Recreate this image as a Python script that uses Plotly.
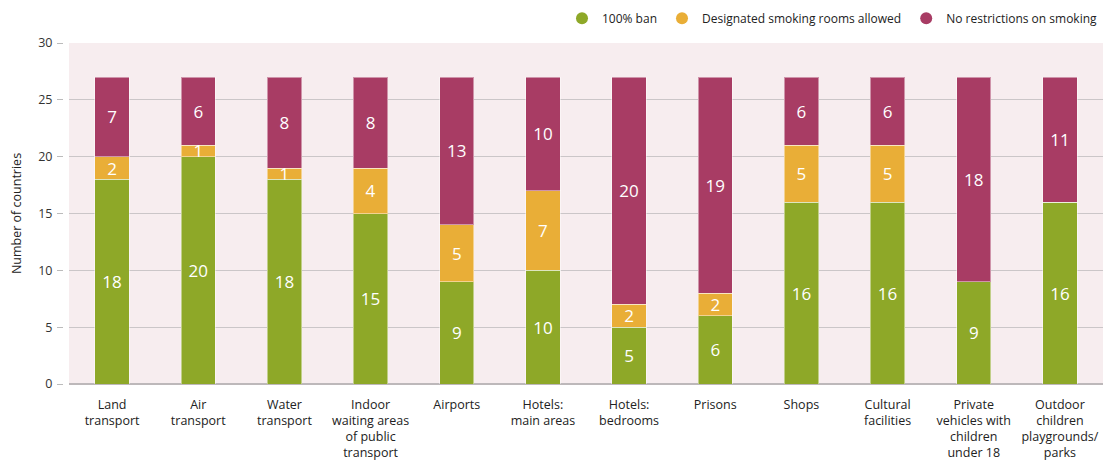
import plotly.graph_objects as go

categories = [
    "Land<br>transport", "Air<br>transport", "Water<br>transport",
    "Indoor<br>waiting areas<br>of public<br>transport", "Airports",
    "Hotels:<br>main areas", "Hotels:<br>bedrooms", "Prisons", "Shops",
    "Cultural<br>facilities", "Private<br>vehicles with<br>children<br>under 18",
    "Outdoor<br>children<br>playgrounds/<br>parks",
]
ban_100 = [18, 20, 18, 15, 9, 10, 5, 6, 16, 16, 9, 16]
designated_rooms = [2, 1, 1, 4, 5, 7, 2, 2, 5, 5, 0, 0]
no_restrictions = [7, 6, 8, 8, 13, 10, 20, 19, 6, 6, 18, 11]

series = [
    ("100% ban", ban_100, "#8ea828"),
    ("Designated smoking rooms allowed", designated_rooms, "#e9ae37"),
    ("No restrictions on smoking", no_restrictions, "#a83c64"),
]

FONT = "Open Sans"
fig = go.Figure()
x = list(range(len(categories)))
for name, vals, color in series:
    fig.add_trace(go.Bar(
        x=x, y=vals, name=name, showlegend=False,
        marker=dict(color=color, line=dict(color="rgba(255,255,255,0.45)", width=1)),
        text=[str(v) if v else "" for v in vals],
        textposition="inside", insidetextanchor="middle", textangle=0,
        textfont=dict(color="white", size=17, family=FONT),
        width=0.4, hoverinfo="skip",
    ))
for name, vals, color in series:
    fig.add_trace(go.Scatter(
        x=[None], y=[None], mode="markers", name=name,
        marker=dict(color=color, size=12, symbol="circle"),
    ))

fig.update_layout(
    barmode="stack",
    width=1105, height=463,
    margin=dict(l=63, r=2, t=43, b=79),
    paper_bgcolor="white",
    plot_bgcolor="#f7edef",
    font=dict(family=FONT, size=12, color="#333333"),
    uniformtext=dict(minsize=17, mode="show"),
    legend=dict(orientation="h", x=1, xanchor="right", y=1.03, yanchor="bottom",
                font=dict(size=12, family=FONT, color="#222222"),
                itemwidth=30, traceorder="normal", bgcolor="rgba(0,0,0,0)"),
    xaxis=dict(tickmode="array", tickvals=x, ticktext=categories,
               domain=[6 / 1040, 1],
               range=[-0.5, len(categories) - 0.5], showgrid=False,
               ticks="", ticklabelstandoff=11,
               tickfont=dict(size=12.5, family=FONT, color="#222222")),
    yaxis=dict(range=[0, 30], dtick=5, showgrid=True, gridcolor="#cbc6c8",
               anchor="free", position=0,
               gridwidth=1, zeroline=True, zerolinecolor="#bdb8ba", zerolinewidth=2,
               ticks="outside", ticklen=6, tickcolor="#bbbbbb", ticklabelstandoff=2,
               tickfont=dict(size=12.5, family=FONT, color="#333333"),
               title=dict(text="Number of countries", font=dict(size=12.5, family=FONT, color="#222222"),
                          standoff=12)),
)

fig.write_html("out.html")
